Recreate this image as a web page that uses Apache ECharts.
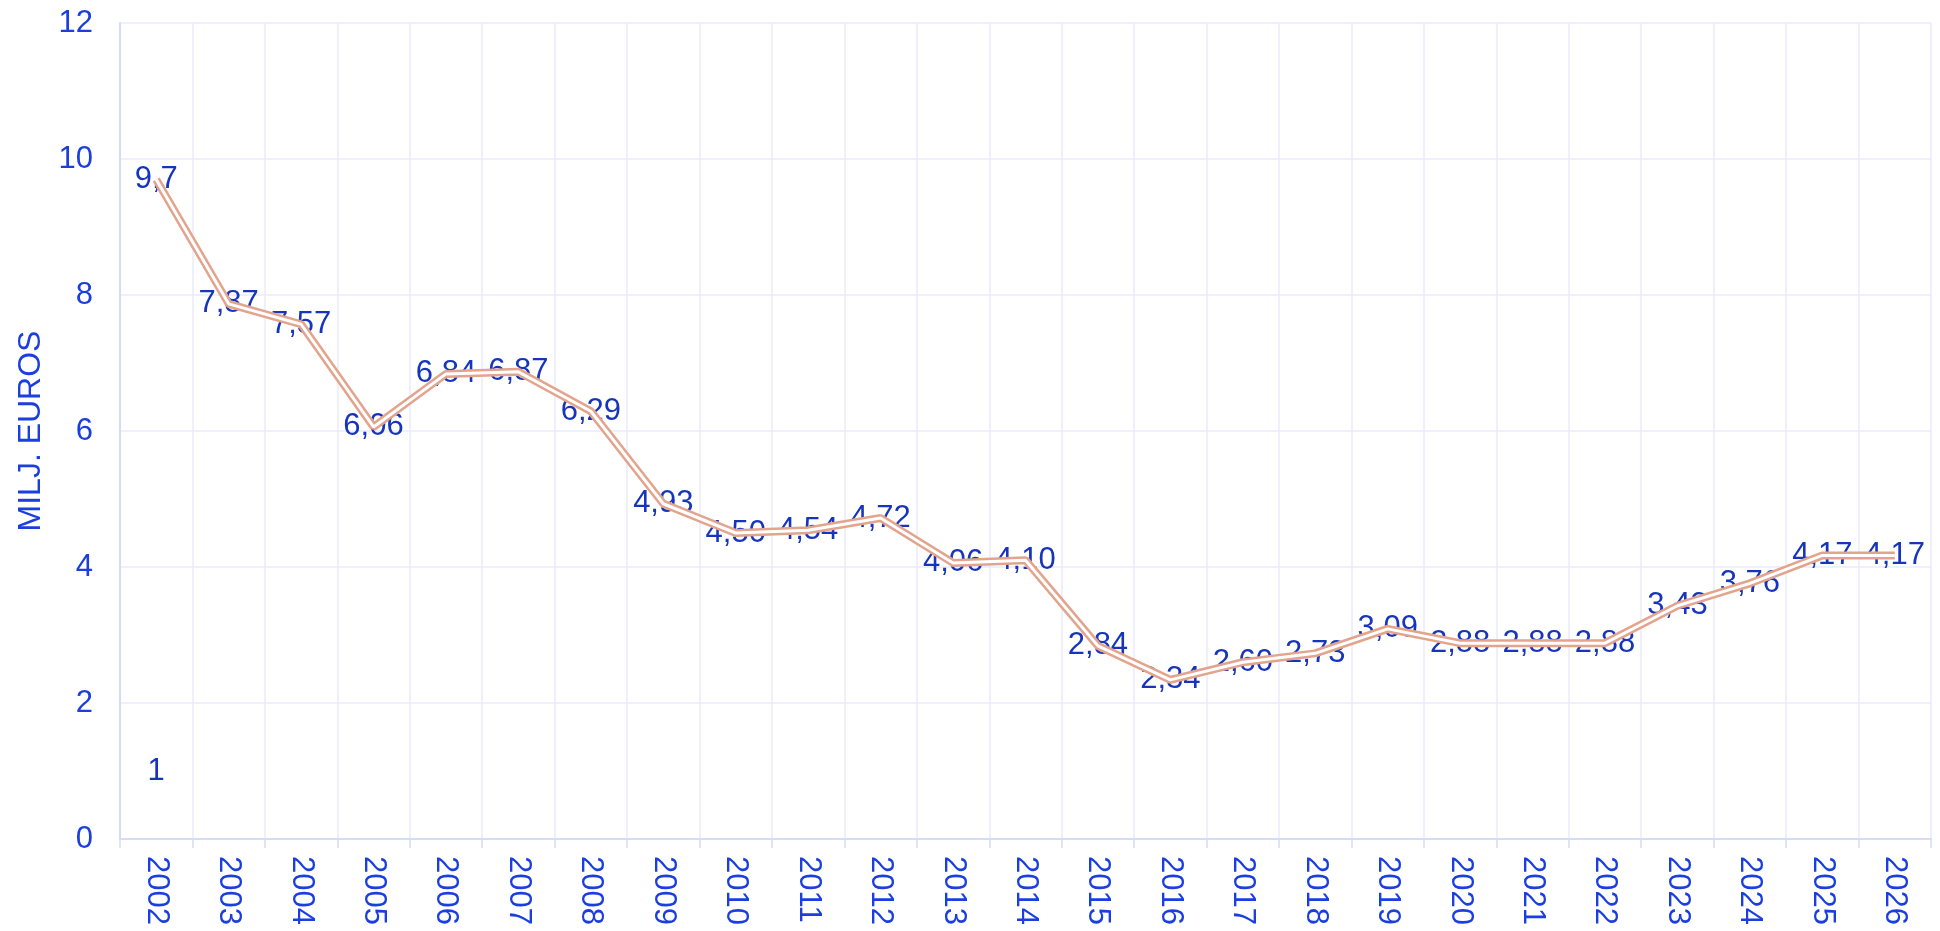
<!DOCTYPE html>
<html>
<head>
<meta charset="utf-8">
<script src="https://cdn.jsdelivr.net/npm/echarts@6/dist/echarts.min.js"></script>
<style>
  html, body { margin: 0; padding: 0; background: #fff; }
  #chart { width: 1940px; height: 931px; }
</style>
</head>
<body>
<div id="chart"></div>
<script>
// jaren op de x-as
var years = ['2002','2003','2004','2005','2006','2007','2008','2009','2010','2011','2012','2013',
  '2014','2015','2016','2017','2018','2019','2020','2021','2022','2023','2024','2025','2026'];
// bedragen in miljoen euro
var values = [9.7, 7.87, 7.57, 6.06, 6.84, 6.87, 6.29, 4.93, 4.50, 4.54, 4.72, 4.06,
  4.10, 2.84, 2.34, 2.60, 2.73, 3.09, 2.88, 2.88, 2.88, 3.43, 3.76, 4.17, 4.17];
// labels zoals ze in de grafiek staan
var valueLabels = ['9,7','7,87','7,57','6,06','6,84','6,87','6,29','4,93','4,50','4,54','4,72','4,06',
  '4,10','2,84','2,34','2,60','2,73','3,09','2,88','2,88','2,88','3,43','3,76','4,17','4,17'];
// tweede reeks: alleen een waarde bij 2002
var second = [1, null, null, null, null, null, null, null, null, null, null, null,
  null, null, null, null, null, null, null, null, null, null, null, null, null];

var font = '"Liberation Sans", Arial, sans-serif';
var axisBlue = '#1a3ee0';
var labelBlue = '#1634bc';

var myChart = echarts.init(document.getElementById('chart'));

var option = {
  animation: false,
  grid: { left: 120, right: 9, top: 23, bottom: 92 },
  xAxis: {
    type: 'category',
    data: years,
    boundaryGap: true,
    axisLine: { lineStyle: { color: '#d6dbf7', width: 2 } },
    axisTick: { show: true, length: 9, lineStyle: { color: '#d6dbf7', width: 1.5 } },
    axisLabel: { rotate: -90, margin: 17, color: axisBlue, fontSize: 31, fontFamily: font, interval: 0 },
    splitLine: { show: true, lineStyle: { color: '#e8ebfc', width: 1.5 } }
  },
  yAxis: {
    type: 'value',
    min: 0,
    max: 12,
    interval: 2,
    name: 'MILJ. EUROS',
    nameLocation: 'middle',
    nameGap: 73,
    nameTextStyle: { color: axisBlue, fontSize: 32, fontFamily: font },
    axisLine: { show: true, lineStyle: { color: '#d6dbf7', width: 2 } },
    axisTick: { show: false },
    axisLabel: { margin: 27, color: axisBlue, fontSize: 31, fontFamily: font },
    splitLine: { show: true, lineStyle: { color: '#e8ebfc', width: 1.5 } }
  },
  series: [
    {
      // labels onder de lijn
      type: 'line',
      data: values,
      symbol: 'circle',
      symbolSize: 0.01,
      itemStyle: { color: 'rgba(0,0,0,0)' },
      lineStyle: { width: 0, opacity: 0 },
      label: {
        show: true,
        position: 'inside',
        color: labelBlue,
        fontSize: 31,
        fontFamily: font,
        formatter: function (p) { return valueLabels[p.dataIndex]; }
      },
      z: 1
    },
    {
      // buitenste (gekleurde) lijn
      type: 'line',
      data: values,
      symbol: 'none',
      lineStyle: { color: '#e2a48c', width: 8 },
      z: 2
    },
    {
      // witte binnenlijn
      type: 'line',
      data: values,
      symbol: 'none',
      lineStyle: { color: '#ffffff', width: 3 },
      z: 3
    },
    {
      type: 'line',
      data: second,
      symbol: 'circle',
      symbolSize: 0.01,
      itemStyle: { color: 'rgba(0,0,0,0)' },
      lineStyle: { width: 0, opacity: 0 },
      label: {
        show: true,
        position: 'inside',
        color: labelBlue,
        fontSize: 31,
        fontFamily: font,
        formatter: function (p) { return p.value; }
      },
      z: 1
    }
  ]
};

myChart.setOption(option);
</script>
</body>
</html>
